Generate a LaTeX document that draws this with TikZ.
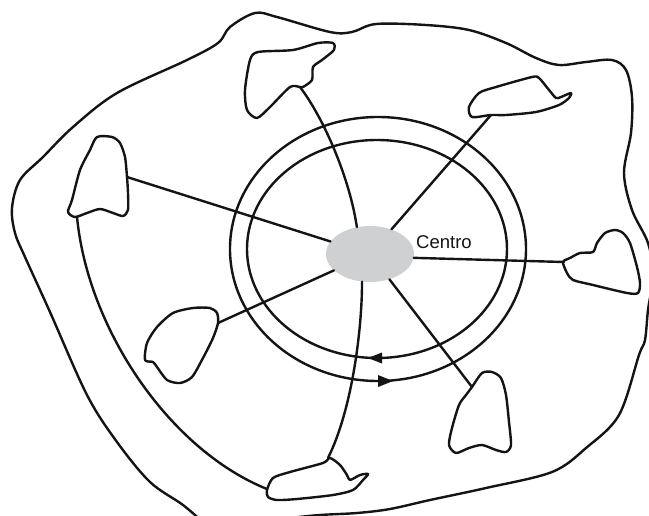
\documentclass[tikz,border=0pt]{standalone}
\usepackage{fontspec}
\setmainfont{Liberation Sans}
\usetikzlibrary{shapes.geometric,arrows.meta}
\definecolor{hubgray}{RGB}{206,208,210}
\definecolor{ink}{RGB}{20,20,20}
\begin{document}
\begin{tikzpicture}[x=1pt,y=-1pt,line join=round,line cap=round,
  stroke/.style={draw=ink,line width=2.4pt},
  blob/.style={stroke},
  ring/.style={stroke},
  spoke/.style={stroke},
  hub/.style={ellipse,fill=hubgray,draw=none,minimum width=88pt,minimum height=56pt,inner sep=0pt},
  lbl/.style={anchor=west,inner sep=0pt,text=ink,font=\fontsize{18.5}{20}\selectfont}]
\useasboundingbox (0,0) rectangle (649,515);
\fill[white] (0,0) rectangle (649,515);
\clip (0,0) rectangle (649,515);

% outer boundary
\draw[stroke] plot[smooth,tension=0.55] coordinates {
 (205,524) (183,505) (150,482) (117,442) (87,395) (50,312) (25,257) (15,233) (12,208)
 (20,180) (43,157) (73,127) (117,93) (187,60) (218,43) (230,27) (255,13) (277,17)
 (330,32) (352,32) (376,24) (426,25) (469,30) (506,43) (536,58) (559,65) (586,62)
 (612,60) (626,70) (632,97) (631,133) (624,173) (632,210) (648,243) (653,275)
 (648,310) (645,340) (639,355) (619,415) (586,448) (552,472) (486,488) (430,500)
 (390,509) (357,513) (320,515) (290,518) (250,523) (205,524)};

% rings
\draw[ring] (378,249) ellipse [x radius=148pt,y radius=132pt];
\draw[ring] (377,249) ellipse [x radius=130pt,y radius=109pt];
\fill[ink] (368,358) -- (382,352.5) -- (382,363.5) -- cycle;
\fill[ink] (393,381) -- (378,375) -- (378,387) -- cycle;

% blobs
\draw[blob] plot[smooth cycle,tension=0.45] coordinates {
 (300,87) (290,87) (270,107) (257,118) (247,110) (245,90) (250,60) (258,52) (293,50)
 (318,43) (333,43) (334,50) (322,60) (313,67) (312,80) (303,87)};
\draw[blob] plot[smooth cycle,tension=0.45] coordinates {
 (491,115) (472,117) (469,107) (479,93) (496,87) (532,77) (539,78) (549,90) (556,98)
 (561,97) (571,93) (569,98) (559,105) (536,112) (506,115)};
\draw[blob] plot[smooth cycle,tension=0.45] coordinates {
 (127,177) (125,157) (120,143) (112,137) (97,137) (90,150) (80,170) (72,200) (68,212)
 (75,217) (87,213) (100,209) (113,213) (123,216) (128,210) (128,193)};
\draw[blob] plot[smooth cycle,tension=0.45] coordinates {
 (563,262) (567,273) (573,280) (593,285) (627,293) (638,293) (640,283) (637,267)
 (630,243) (623,233) (615,230) (605,233) (597,243) (593,252) (580,253) (570,258)};
\draw[blob] plot[smooth cycle,tension=0.45] coordinates {
 (218,323) (217,313) (210,308) (193,308) (173,313) (157,327) (147,343) (145,360)
 (153,362) (157,367) (167,380) (180,383) (192,377) (203,358) (213,338)};
\draw[blob] plot[smooth cycle,tension=0.45] coordinates {
 (472,387) (482,373) (492,372) (501,378) (506,395) (509,422) (511,445) (506,452)
 (496,450) (482,445) (469,448) (456,453) (449,445) (452,428) (459,405) (466,395)};
\draw[blob] plot[smooth cycle,tension=0.45] coordinates {
 (330,458) (323,463) (290,472) (273,478) (267,490) (268,497) (277,500) (297,499)
 (333,495) (353,490) (363,480) (368,474) (360,475) (350,480) (347,475) (340,465)};

% hub and label
\node[hub] (ctr) at (370,254) {};
\node[lbl] (centro) at (416,242) {Centro};

% attachment points
\coordinate (pA) at (300,87);
\coordinate (pB) at (491,115);
\coordinate (pC) at (127,177);
\coordinate (pD) at (564,262);
\coordinate (pE) at (218,323);
\coordinate (pF) at (472,387);
\coordinate (pG) at (328,458);
\coordinate (pC2) at (77,217);
\coordinate (pG2) at (267,489);

% spokes
\draw[spoke] (ctr.116) .. controls (350,180) and (325,120) .. (pA);
\draw[spoke] (ctr) -- (pB);
\draw[spoke] (ctr) -- (pC);
\draw[spoke] (ctr.355) -- (pD);
\draw[spoke] (ctr) -- (pE);
\draw[spoke] (ctr) -- (pF);
\draw[spoke] (ctr.254) .. controls (362,330) and (352,410) .. (pG);
\draw[spoke] (pC2) .. controls (88,330) and (170,450) .. (pG2);
\end{tikzpicture}
\end{document}
